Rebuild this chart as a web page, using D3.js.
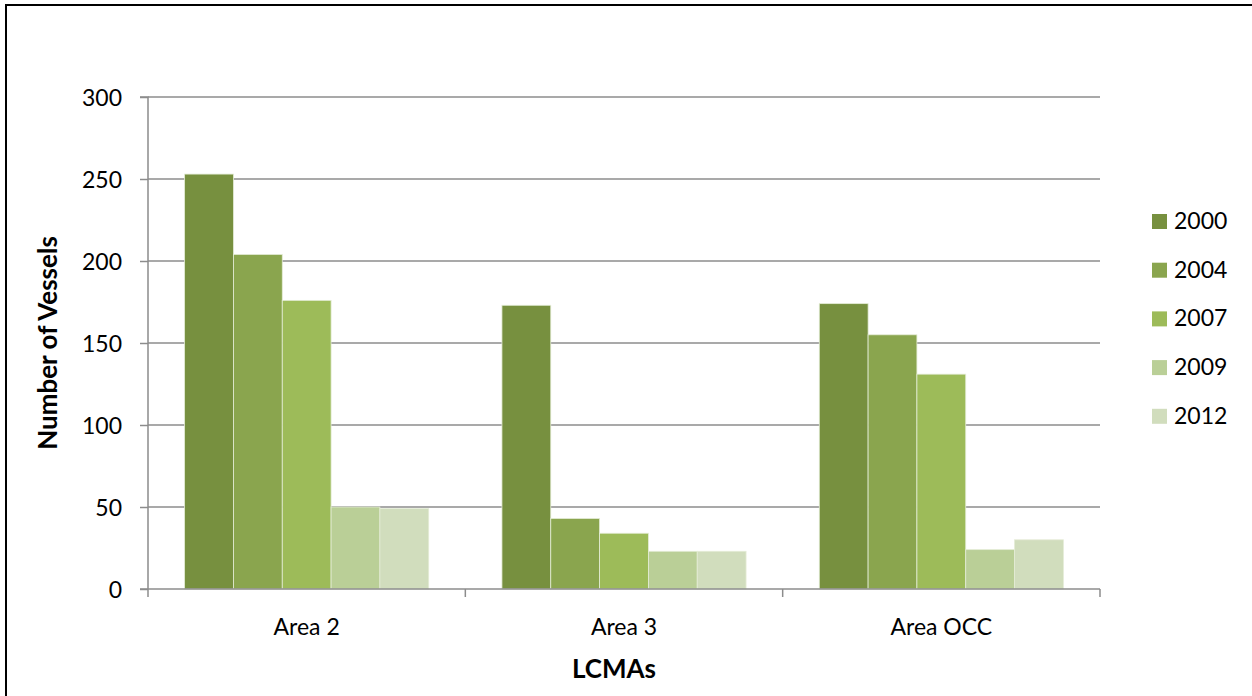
<!DOCTYPE html>
<html><head><meta charset="utf-8">
<script src="https://cdn.jsdelivr.net/npm/d3@7"></script>
<style>body{margin:0;background:#fff}svg{display:block}</style>
</head><body>
<svg id="chart" width="1252" height="696"></svg>
<script>
const categories = ["Area 2", "Area 3", "Area OCC"];
const seriesNames = ["2000", "2004", "2007", "2009", "2012"];
const s2000 = [253, 173, 174];
const s2004 = [204, 43, 155];
const s2007 = [176, 34, 131];
const s2009 = [50, 23, 24];
const s2012 = [49, 23, 30];
const yTicks = [0, 50, 100, 150, 200, 250, 300];
const colors = ["#77903f", "#8aa54e", "#9dbb59", "#bacf97", "#d1ddbd"];

const seriesValues = [s2000, s2004, s2007, s2009, s2012];
const font = "Lato, 'Open Sans', sans-serif";
const svg = d3.select("#chart");
const W = 1252, H = 696;
const m = {left: 148, right: 1100, top: 97, bottom: 589};

// frame
svg.append("rect").attr("x", 6).attr("y", 5).attr("width", W).attr("height", H)
  .attr("fill", "none").attr("stroke", "#000").attr("stroke-width", 2);

const x0 = d3.scaleBand().domain(categories).range([m.left, m.right]).paddingInner(0).paddingOuter(0);
const bw = x0.bandwidth() / (5 + 1.5);
const x1 = d3.scaleBand().domain(seriesNames).range([bw * 0.75, x0.bandwidth() - bw * 0.75]).padding(0);
const y = d3.scaleLinear().domain([0, 300]).range([m.bottom, m.top]);

// gridlines
svg.append("g").selectAll("line").data(yTicks.filter(d => d > 0)).join("line")
  .attr("x1", m.left).attr("x2", m.right).attr("y1", d => y(d)).attr("y2", d => y(d))
  .attr("stroke", "#8c8c8c").attr("stroke-width", 1.5);

// bars
const groups = svg.append("g").selectAll("g").data(categories).join("g")
  .attr("transform", c => `translate(${x0(c)},0)`);
groups.selectAll("rect").data((c, ci) => seriesNames.map((s, si) => ({s, si, v: seriesValues[si][ci]})))
  .join("rect")
  .attr("x", d => x1(d.s)).attr("width", x1.bandwidth())
  .attr("y", d => y(d.v)).attr("height", d => y(0) - y(d.v))
  .attr("fill", d => colors[d.si]).attr("stroke", "#e4ecd6").attr("stroke-width", 0.8);

// y axis
const yAxis = d3.axisLeft(y).tickValues(yTicks).tickSize(8).tickPadding(18).tickFormat(d3.format("d"));
const gy = svg.append("g").attr("transform", `translate(${m.left},0)`).call(yAxis);
gy.select(".domain").attr("stroke", "#8c8c8c").attr("stroke-width", 1.5).attr("d", `M-8,${m.top}H0V${m.bottom}`);
gy.selectAll(".tick line").attr("stroke", "#8c8c8c").attr("stroke-width", 1.5);
gy.selectAll(".tick text").attr("font-family", font).attr("font-size", 23).attr("fill", "#000").attr("dy", "0.35em");

// x axis
const gx = svg.append("g").attr("transform", `translate(0,${m.bottom})`);
gx.append("line").attr("x1", m.left - 8).attr("x2", m.right).attr("y1", 0).attr("y2", 0)
  .attr("stroke", "#8c8c8c").attr("stroke-width", 1.5);
const bounds = categories.map(c => x0(c)).concat([m.right]);
gx.selectAll("line.tk").data(bounds).join("line").attr("class", "tk")
  .attr("x1", d => d).attr("x2", d => d).attr("y1", 0).attr("y2", 8)
  .attr("stroke", "#8c8c8c").attr("stroke-width", 1.5);
gx.selectAll("text").data(categories).join("text")
  .attr("x", c => x0(c) + x0.bandwidth() / 2).attr("y", 46)
  .attr("text-anchor", "middle").attr("font-family", font).attr("font-size", 23).text(c => c);

// axis titles
svg.append("text").attr("transform", `translate(57,343) rotate(-90)`).attr("text-anchor", "middle")
  .attr("font-family", font).attr("font-weight", "bold").attr("font-size", 26).text("Number of Vessels");
svg.append("text").attr("x", 614).attr("y", 678).attr("text-anchor", "middle")
  .attr("font-family", font).attr("font-weight", "bold").attr("font-size", 26).text("LCMAs");

// legend
const lg = svg.append("g").selectAll("g").data(seriesNames).join("g")
  .attr("transform", (d, i) => `translate(1152,${221 + i * 48.7})`);
lg.append("rect").attr("x", 0).attr("y", -7).attr("width", 15).attr("height", 15).attr("fill", (d, i) => colors[i]);
lg.append("text").attr("x", 22).attr("y", 0).attr("dy", "0.35em")
  .attr("font-family", font).attr("font-size", 23).text(d => d);
</script>
</body></html>
